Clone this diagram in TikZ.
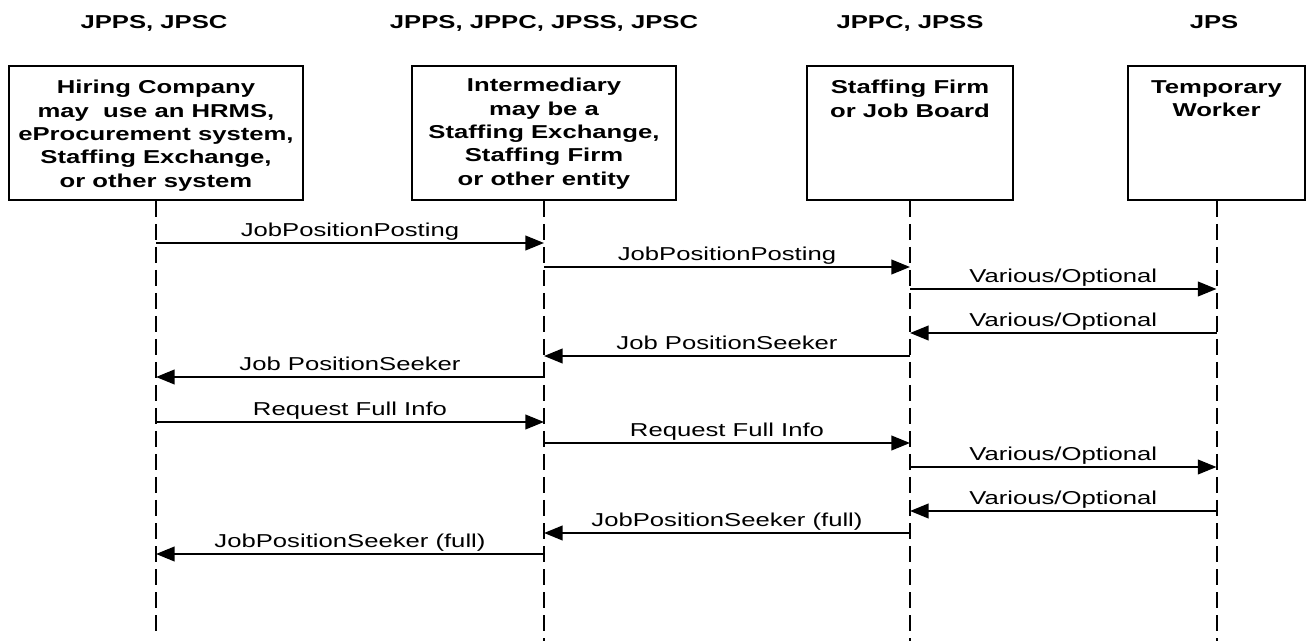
\documentclass[tikz,border=0pt]{standalone}
\usepackage{fontspec}
\setmainfont{Liberation Sans}[FakeStretch=1.375]
\usetikzlibrary{arrows.meta}
\tikzset{
  actorbox/.style={draw=black, line width=1.5pt, rectangle, inner sep=0pt, minimum height=100.5pt},
  boxtext/.style={anchor=north, align=center, inner sep=0pt, font=\fontsize{14pt}{17.5pt}\selectfont\bfseries},
  header/.style={anchor=base, inner sep=0pt, font=\fontsize{14pt}{17.5pt}\selectfont\bfseries},
  lifeline/.style={line width=1.5pt, dash pattern=on 12pt off 5.25pt},
  msg/.style={line width=1.5pt, -{Triangle[length=14pt,width=11pt]}},
  msglabel/.style={anchor=base, inner sep=0pt, yshift=4.7pt, font=\fontsize{14pt}{17.5pt}\selectfont}
}
\begin{document}
\begin{tikzpicture}[x=0.75pt, y=-0.75pt]
\useasboundingbox (0,0) rectangle (1307,641);
% headers
\node[header] (h1) at (154,29) {JPPS, JPSC};
\node[header] (h2) at (544,29) {JPPS, JPPC, JPSS, JPSC};
\node[header] (h3) at (910,29) {JPPC, JPSS};
\node[header] (h4) at (1214,29) {JPS};
% boxes
\node[actorbox, minimum width=220.5pt] (b1) at (156,133) {};
\node[actorbox, minimum width=198pt] (b2) at (544,133) {};
\node[actorbox, minimum width=154.5pt] (b3) at (910,133) {};
\node[actorbox, minimum width=132.75pt] (b4) at (1216.5,133) {};
\node[boxtext] (t1) at (156,80) {Hiring Company\\may\ \ use an HRMS,\\eProcurement system,\\Staffing Exchange,\\or other system};
\node[boxtext] (t2) at (544,78) {Intermediary\\may be a\\Staffing Exchange,\\Staffing Firm\\or other entity};
\node[boxtext] (t3) at (910,80) {Staffing Firm\\or Job Board};
\node[boxtext] (t4) at (1216.5,80) {Temporary\\Worker};
% lifeline ends
\coordinate (e1) at (156,636);
\coordinate (e2) at (544,641);
\coordinate (e3) at (910,641);
\coordinate (e4) at (1216.5,641);
\draw[lifeline] (b1.south) -- (e1);
\draw[lifeline] (b2.south) -- (e2);
\draw[lifeline] (b3.south) -- (e3);
\draw[lifeline] (b4.south) -- (e4);
% messages
\draw[msg] (b1.south |- 0,243) -- (b2.south |- 0,243) node[midway, msglabel] (m1) {JobPositionPosting};
\draw[msg] (b2.south |- 0,267) -- (b3.south |- 0,267) node[midway, msglabel] (m2) {JobPositionPosting};
\draw[msg] (b3.south |- 0,289) -- (b4.south |- 0,289) node[midway, msglabel] (m3) {Various/Optional};
\draw[msg] (b4.south |- 0,333) -- (b3.south |- 0,333) node[midway, msglabel] (m4) {Various/Optional};
\draw[msg] (b3.south |- 0,356) -- (b2.south |- 0,356) node[midway, msglabel] (m5) {Job PositionSeeker};
\draw[msg] (b2.south |- 0,377) -- (b1.south |- 0,377) node[midway, msglabel] (m6) {Job PositionSeeker};
\draw[msg] (b1.south |- 0,422) -- (b2.south |- 0,422) node[midway, msglabel] (m7) {Request Full Info};
\draw[msg] (b2.south |- 0,443) -- (b3.south |- 0,443) node[midway, msglabel] (m8) {Request Full Info};
\draw[msg] (b3.south |- 0,467) -- (b4.south |- 0,467) node[midway, msglabel] (m9) {Various/Optional};
\draw[msg] (b4.south |- 0,511) -- (b3.south |- 0,511) node[midway, msglabel] (m10) {Various/Optional};
\draw[msg] (b3.south |- 0,533) -- (b2.south |- 0,533) node[midway, msglabel] (m11) {JobPositionSeeker (full)};
\draw[msg] (b2.south |- 0,554) -- (b1.south |- 0,554) node[midway, msglabel] (m12) {JobPositionSeeker (full)};
\end{tikzpicture}
\end{document}
